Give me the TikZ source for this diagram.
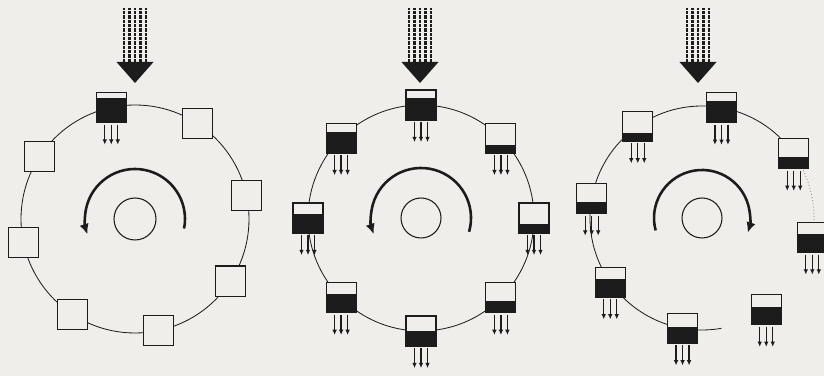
\documentclass[tikz,border=0pt]{standalone}
\usepackage{tikz}
\usetikzlibrary{arrows.meta, calc}

\definecolor{ink}{HTML}{1C1C1C}
\definecolor{paper}{HTML}{EFEEEA}

\tikzset{
    ring/.style={draw=ink, line width=0.7pt},
    cellbox/.style={draw=ink, line width=1pt, fill=paper, minimum size=0.9cm, inner sep=0pt,
        path picture={\fill[ink] (path picture bounding box.south west) rectangle
            ($(path picture bounding box.south east)!#1!(path picture bounding box.north east)$);}},
    cellbox/.default=0,
    drip/.style={draw=ink, line width=1.1pt, -{Latex[length=4.5pt,width=4pt]}},
    swirl/.style={draw=ink, line width=2.2pt, -{Latex[length=9pt,width=8pt]}},
    hub/.style={draw=ink, line width=0.9pt},
    shaft/.style={draw=ink, line width=2.3pt, dash pattern=on 2.8pt off 0.9pt},
}

\begin{document}
\begin{tikzpicture}[x=0.03cm, y=0.03cm]
    \fill[paper] (0,0) rectangle (824,376);
    \useasboundingbox (0,0) rectangle (824,376);

    % 圆心
    \coordinate (c1) at (135,157);
    \coordinate (c2) at (421,158);
    \coordinate (c3) at (702,158);

    % 热流箭头
    \coordinate (tip1) at (135,293);
    \coordinate (tip2) at (420,293);
    \coordinate (tip3) at (698,293);
    \foreach \t in {tip1, tip2, tip3} {
        \fill[ink] (\t) -- ++(-18.5,21) -- ++(37,0) -- cycle;
        \foreach \dx in {-11,-5.5,0,5.5,11}
            \draw[shaft] ($(\t)+(\dx,21)$) -- ++(0,54);
    }

    % 第一个环
    \draw[ring] (c1) circle[radius=114];
    \foreach \a/\f [count=\i] in {102/0.83, 57/0, 12/0, -33/0, -78/0, -123/0, -168/0, 147/0}
        \node[cellbox=\f] (a\i) at ($(c1)+(\a:114)$) {};
    \foreach \dx in {-6.5,0,6.5}
        \draw[drip] ($(a1.south)+(\dx,-1.5)$) -- ++(0,-20);
    \draw[hub] (c1) circle[radius=21];
    \draw[swirl] ($(c1)+(-11:50)$) arc[start angle=-11, end angle=198, radius=50];

    % 第二个环
    \draw[ring] (c2) circle[radius=113];
    \foreach \a/\f [count=\i] in {90/0.72, 45/0.28, 0/0.3, -45/0.38, -90/0.5, -135/0.62, 180/0.62, 135/0.69} {
        \node[cellbox=\f] (b\i) at ($(c2)+(\a:113)$) {};
        \foreach \dx in {-6.5,0,6.5}
            \draw[drip] ($(b\i.south)+(\dx,-1.5)$) -- ++(0,-20);
    }
    \draw[hub] (c2) circle[radius=20];
    \draw[swirl] ($(c2)+(-16:50)$) arc[start angle=-16, end angle=199, radius=50];

    % 第三个环
    \draw[ring] ($(c3)+(35:112)$) arc[start angle=35, end angle=280, radius=112];
    \draw[ring, draw=ink!55, dotted] ($(c3)+(35:112)$) arc[start angle=35, end angle=-10, radius=112];
    \foreach \a/\f [count=\i] in {80/0.72, 35/0.39, -10/0.6, -55/0.6, -100/0.55, -145/0.62, 170/0.38, 125/0.28} {
        \node[cellbox=\f] (d\i) at ($(c3)+(\a:112)$) {};
        \foreach \dx in {-6.5,0,6.5}
            \draw[drip] ($(d\i.south)+(\dx,-1.5)$) -- ++(0,-20);
    }
    \draw[hub] (c3) circle[radius=20];
    \draw[swirl] ($(c3)+(195:48)$) arc[start angle=195, end angle=-18, radius=48];
\end{tikzpicture}
\end{document}
